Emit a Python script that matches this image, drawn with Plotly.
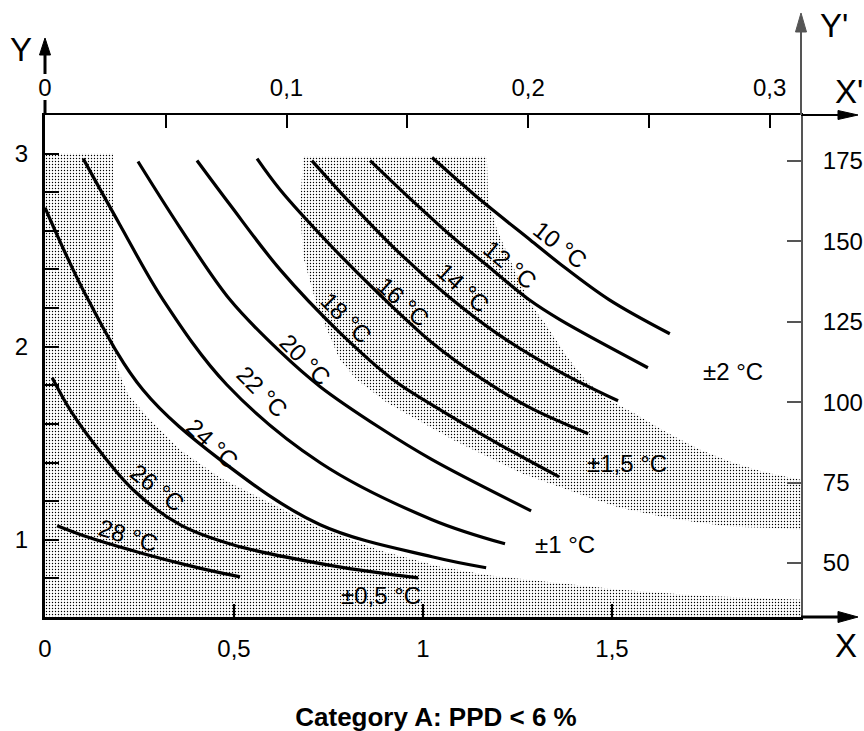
import plotly.graph_objects as go

FONT = "Liberation Sans, Arial, Helvetica, sans-serif"

# ---------------- data (X: clo, Y: met) ----------------
temps = [10, 12, 14, 16, 18, 20, 22, 24, 26, 28]

t10_x = [1.024, 1.151, 1.283, 1.362, 1.492, 1.653]
t10_y = [2.980, 2.762, 2.554, 2.430, 2.244, 2.067]
t12_x = [0.860, 0.966, 1.071, 1.177, 1.280, 1.362, 1.595]
t12_y = [2.964, 2.767, 2.580, 2.409, 2.244, 2.140, 1.891]
t14_x = [0.706, 0.807, 0.939, 1.077, 1.204, 1.362, 1.516]
t14_y = [2.964, 2.746, 2.482, 2.244, 2.057, 1.870, 1.720]
t16_x = [0.561, 0.622, 0.754, 0.886, 1.024, 1.159, 1.283, 1.437]
t16_y = [2.974, 2.813, 2.528, 2.269, 2.021, 1.829, 1.684, 1.549]
t18_x = [0.402, 0.489, 0.622, 0.780, 0.921, 1.024, 1.204, 1.360]
t18_y = [2.964, 2.736, 2.399, 2.073, 1.829, 1.699, 1.492, 1.326]
t20_x = [0.246, 0.357, 0.489, 0.622, 0.728, 0.886, 1.024, 1.286]
t20_y = [2.959, 2.617, 2.244, 1.974, 1.793, 1.580, 1.415, 1.150]
t22_x = [0.101, 0.198, 0.312, 0.481, 0.728, 1.024, 1.217]
t22_y = [2.974, 2.632, 2.244, 1.803, 1.399, 1.104, 0.979]
t24_x = [0.000, 0.114, 0.259, 0.463, 0.728, 1.024, 1.167]
t24_y = [2.720, 2.244, 1.777, 1.415, 1.078, 0.912, 0.855]
t26_x = [0.019, 0.066, 0.132, 0.233, 0.357, 0.497, 0.762, 0.987]
t26_y = [1.839, 1.674, 1.492, 1.259, 1.078, 0.974, 0.865, 0.803]
t28_x = [0.032, 0.119, 0.251, 0.384, 0.516]
t28_y = [1.073, 1.010, 0.933, 0.865, 0.808]

curves_x = [t10_x, t12_x, t14_x, t16_x, t18_x, t20_x, t22_x, t24_x, t26_x, t28_x]
curves_y = [t10_y, t12_y, t14_y, t16_y, t18_y, t20_y, t22_y, t24_y, t26_y, t28_y]

# curve label positions (data) and rotation
label_x = [1.362, 1.230, 1.106, 0.947, 0.796, 0.688, 0.574, 0.442, 0.296, 0.220]
label_y = [2.528, 2.425, 2.306, 2.233, 2.150, 1.933, 1.767, 1.497, 1.269, 1.021]
label_angle = [38, 40, 42, 42, 45, 45, 45, 43, 38, 17]

# shaded tolerance bands (polygon outlines in data units)
band05_x = [0, 0, 0.180, 0.180, 0.193, 0.220, 0.278, 0.357, 0.463, 0.595, 0.728,
            0.886, 1.045, 1.177, 1.336, 1.521, 1.733, 2.0, 2.0]
band05_y = [0.6, 3.0, 3.0, 2.062, 1.881, 1.751, 1.622, 1.466, 1.321, 1.192, 1.060,
            0.945, 0.860, 0.815, 0.782, 0.741, 0.710, 0.689, 0.6]
band15_x = [0.683, 1.169, 1.172, 1.196, 1.238, 1.283, 1.328, 1.381, 1.429, 1.481,
            1.556, 1.646, 1.733, 1.820, 1.910, 2.0, 2.0, 1.910, 1.820, 1.733,
            1.646, 1.521, 1.434, 1.257, 1.079, 0.905, 0.825, 0.780, 0.720, 0.683,
            0.675, 0.683]
band15_y = [2.985, 2.985, 2.762, 2.606, 2.415, 2.228, 2.104, 1.948, 1.829, 1.736,
            1.658, 1.554, 1.466, 1.399, 1.347, 1.311, 1.052, 1.062, 1.067, 1.088,
            1.114, 1.166, 1.223, 1.347, 1.518, 1.710, 1.829, 1.933, 2.207, 2.466,
            2.725, 2.985]

band_text = ["±0,5 °C", "±1 °C", "±1,5 °C", "±2 °C"]
band_text_x = [0.889, 1.376, 1.540, 1.820]
band_text_y = [0.710, 0.974, 1.394, 1.870]

# axes
x_ticks = [0, 0.5, 1, 1.5]
x_ticktext = ["0", "0,5", "1", "1,5"]
y_ticks = [0.8, 1.0, 1.2, 1.4, 1.6, 1.8, 2.0, 2.2, 2.4, 2.6, 2.8, 3.0]
y_ticktext = ["", "1", "", "", "", "", "2", "", "", "", "", "3"]
x2_ticks = [0, 0.05, 0.1, 0.15, 0.2, 0.25, 0.3]
x2_ticktext = ["0", "", "0,1", "", "0,2", "", "0,3"]
y2_ticks = [50, 75, 100, 125, 150, 175]
y2_ticktext = ["50", "75", "100", "125", "150", "175"]

X_RANGE = [0, 2.0]
Y_RANGE = [0.6, 3.2]
X2_RANGE = [0, 0.313]
Y2_RANGE = [33.2, 189.3]

title_text = "<b>Category A: PPD &lt; 6 %</b>"

# ---------------- geometry helpers (pixels -> paper) ----------------
W, H = 864, 731
ML, MR, MT, MB = 45, 63, 115, 114
PW = W - ML - MR
PH = H - MT - MB


def px(x):
    return (x - ML) / PW


def py(y):
    return (H - MB - y) / PH


fig = go.Figure()

pattern = dict(shape=".", size=3, solidity=0.17, fgcolor="#000000",
               bgcolor="#ffffff", fillmode="replace")
for bx, by in [(band05_x, band05_y), (band15_x, band15_y)]:
    fig.add_trace(go.Scatter(x=bx, y=by, mode="lines", fill="toself",
                             fillcolor="#ffffff", fillpattern=pattern,
                             line=dict(width=0), hoverinfo="skip",
                             showlegend=False))

for cx, cy in zip(curves_x, curves_y):
    fig.add_trace(go.Scatter(x=cx, y=cy, mode="lines",
                             line=dict(color="black", width=3.2,
                                       shape="spline", smoothing=1.0),
                             showlegend=False, hoverinfo="skip"))

# dummy traces for secondary axes
fig.add_trace(go.Scatter(x=X2_RANGE, y=[None, None], xaxis="x2", yaxis="y",
                         showlegend=False, hoverinfo="skip"))
fig.add_trace(go.Scatter(x=[None, None], y=Y2_RANGE, xaxis="x", yaxis="y2",
                         showlegend=False, hoverinfo="skip"))

LABEL_SIZE = 24
annotations = []
for t, lx, ly, ang in zip(temps, label_x, label_y, label_angle):
    annotations.append(dict(x=lx, y=ly, xref="x", yref="y", text=f"{t} °C",
                            textangle=ang, showarrow=False,
                            font=dict(family=FONT, size=LABEL_SIZE, color="black")))
for txt, tx, ty in zip(band_text, band_text_x, band_text_y):
    annotations.append(dict(x=tx, y=ty, xref="x", yref="y", text=txt,
                            showarrow=False,
                            font=dict(family=FONT, size=LABEL_SIZE, color="black")))

for txt, ax_, ay_ in [("Y", 21, 50), ("Y'", 834, 26), ("X'", 849, 91), ("X", 846, 645)]:
    annotations.append(dict(x=px(ax_), y=py(ay_), xref="paper", yref="paper",
                            text=txt, showarrow=False, xanchor="center",
                            yanchor="middle",
                            font=dict(family=FONT, size=33, color="black")))

shapes = []


def seg(x0, y0, x1, y1, w, c="black"):
    shapes.append(dict(type="line", xref="paper", yref="paper",
                       x0=px(x0), y0=py(y0), x1=px(x1), y1=py(y1),
                       line=dict(color=c, width=w)))


def tri(pts, c="black"):
    p = "M " + " L ".join(f"{px(a):.5f},{py(b):.5f}" for a, b in pts) + " Z"
    shapes.append(dict(type="path", xref="paper", yref="paper", path=p,
                       fillcolor=c, line=dict(color=c, width=1)))


# bottom X axis arrow
seg(801, 617, 842, 617, 3)
tri([(838, 611.5), (858, 617), (838, 622.5)])
# top X' axis arrow
seg(801, 115, 842, 115, 2)
tri([(838, 110.5), (858, 115), (838, 119.5)])
# right Y' axis arrow
seg(801, 115, 801, 30, 2, "#555555")
tri([(795.5, 32), (801, 13), (806.5, 32)], "#555555")
# left Y axis arrow
seg(45, 115, 45, 100, 3)
seg(45, 74, 45, 52, 3)
tri([(39.5, 55), (45, 38), (50.5, 55)])

tickfont = dict(family=FONT, size=24, color="black")
common = dict(showgrid=False, zeroline=False, showline=True, automargin=False,
              fixedrange=True, tickfont=tickfont, tickwidth=1.5)

fig.update_layout(
    template="none",
    width=W, height=H, autosize=False,
    margin=dict(l=ML, r=MR, t=MT, b=MB, pad=0, autoexpand=False),
    paper_bgcolor="white", plot_bgcolor="white",
    showlegend=False,
    title=dict(text=title_text, x=436 / W, xref="container", xanchor="center",
               y=1 - 717 / H, yref="container", yanchor="middle",
               font=dict(family=FONT, size=26, color="black")),
    xaxis=dict(range=X_RANGE, linecolor="black", linewidth=3, ticks="inside",
               ticklen=13, tickcolor="black", tickvals=x_ticks,
               ticktext=x_ticktext, ticklabelstandoff=8, **common),
    yaxis=dict(range=Y_RANGE, linecolor="black", linewidth=3, ticks="inside",
               ticklen=14, tickcolor="black", tickvals=y_ticks,
               ticktext=y_ticktext, ticklabelstandoff=9, **common),
    xaxis2=dict(range=X2_RANGE, overlaying="x", side="top", anchor="y",
                linecolor="black", linewidth=2, ticks="inside", ticklen=13,
                tickcolor="black", tickvals=x2_ticks, ticktext=x2_ticktext,
                ticklabelstandoff=7, **common),
    yaxis2=dict(range=Y2_RANGE, overlaying="y", side="right", anchor="x",
                linecolor="#555555", linewidth=2, ticks="inside", ticklen=14,
                tickcolor="#555555", tickvals=y2_ticks, ticktext=y2_ticktext,
                ticklabelstandoff=15, **common),
    annotations=annotations,
    shapes=shapes,
)

fig.write_html("out.html",
               config={"displayModeBar": False, "responsive": False},
               default_width="864px", default_height="731px",
               post_script="document.body.style.margin='0px';"
                           "document.body.style.padding='0px';"
                           "document.documentElement.style.overflow='hidden';"
                           "document.body.style.overflow='hidden';")
